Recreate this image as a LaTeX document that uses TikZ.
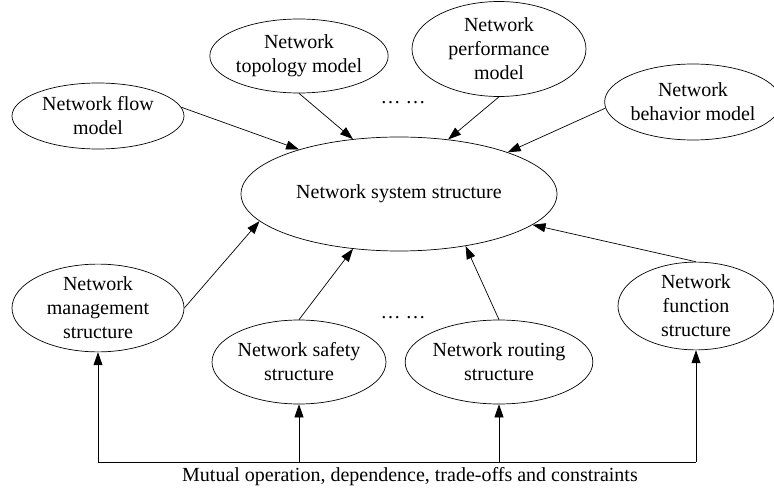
\documentclass[tikz,border=0pt]{standalone}
\usepackage{fontspec}
\setmainfont{Liberation Serif}
\usetikzlibrary{shapes.geometric,arrows.meta}
\begin{document}
\begin{tikzpicture}[x=1pt,y=-1pt,
  ell/.style={draw,ellipse,inner sep=0pt,align=center,line width=0.7pt,
    font=\fontsize{20}{24}\selectfont},
  arr/.style={-{Triangle[length=13pt,width=9pt]},line width=0.7pt},
  lin/.style={line width=0.7pt}]
\useasboundingbox (0,0) rectangle (774,489);
\node[ell,minimum width=172pt,minimum height=66pt] (flow) at (98,116) {Network flow\\model};
\node[ell,minimum width=174pt,minimum height=74pt] (topo) at (299,56) {Network\\topology model};
\node[ell,minimum width=174pt,minimum height=95pt] (perf) at (499,49) {Network\\performance\\model};
\node[ell,minimum width=160pt,minimum height=76pt] (behav) at (693,102) {Network\\behavior model};
\node[ell,minimum width=316pt,minimum height=114pt] (sys) at (399,194) {Network system structure};
\node[ell,minimum width=172pt,minimum height=82pt] (mgmt) at (98,308) {Network\\management\\structure};
\node[ell,minimum width=174pt,minimum height=84pt] (safe) at (299,362) {Network safety\\structure};
\node[ell,minimum width=174pt,minimum height=84pt] (rout) at (499,362) {Network routing\\structure};
\node[ell,minimum width=156pt,minimum height=84pt] (func) at (696,306) {Network\\function\\structure};
\node[font=\fontsize{20}{24}\selectfont] (dtop) at (403,103) {… …};
\node[font=\fontsize{20}{24}\selectfont] (dbot) at (403,318) {… …};
\node[font=\fontsize{20}{24}\selectfont] (lab) at (410,477) {Mutual operation, dependence, trade-offs and constraints};
% top arrows
\draw[arr] (flow.6) -- (sys.156.7);
\draw[arr] (topo.south) -- (sys.130.4);
\draw[arr] (perf.south) -- (sys.48.4);
\draw[arr] (behav.184) -- (sys.21.5);
% bottom arrows
\draw[arr] (mgmt.east) -- (sys.191.5);
\draw[arr] (safe.north) -- (sys.230);
\draw[arr] (rout.north) -- (sys.322.7);
\draw[arr] (func.north) -- (sys.347.7);
% constraint bus
\coordinate (b1) at (98,462);
\coordinate (b2) at (299,462);
\coordinate (b3) at (499,462);
\coordinate (b4) at (696,462);
\draw[lin] (b1) -- (b4);
\draw[arr] (b1) -- (mgmt.south);
\draw[arr] (b2) -- (safe.south);
\draw[arr] (b3) -- (rout.south);
\draw[arr] (b4) -- (func.south);
\end{tikzpicture}
\end{document}
